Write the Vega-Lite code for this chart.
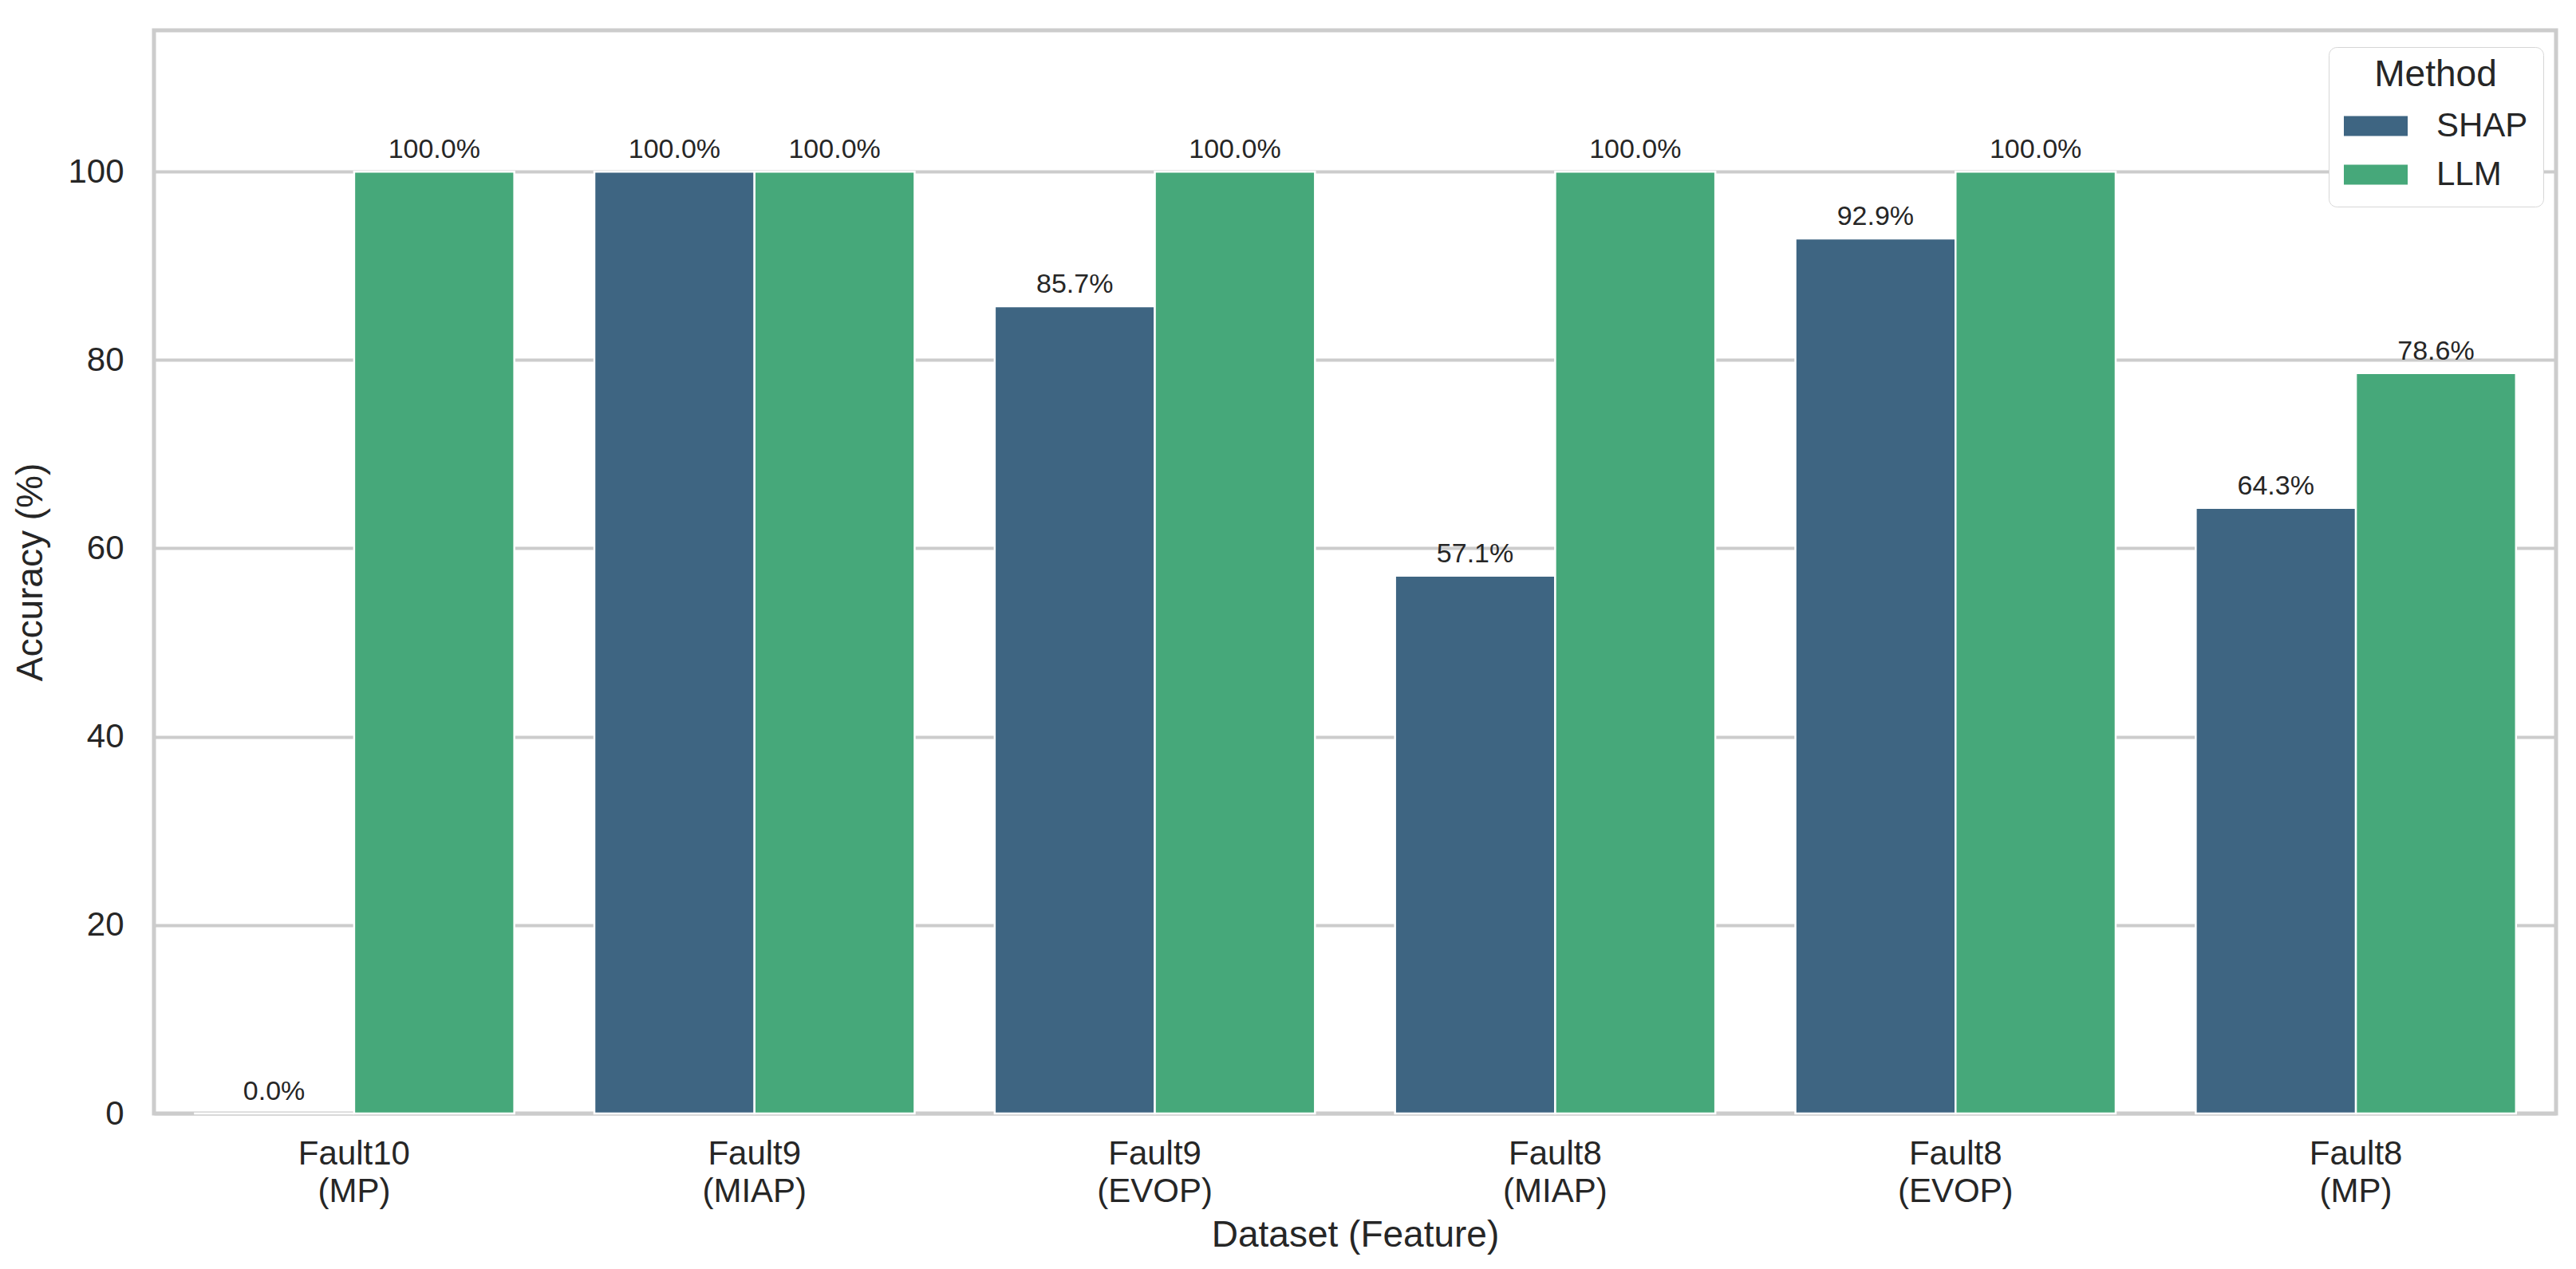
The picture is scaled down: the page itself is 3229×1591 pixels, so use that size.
{
  "$schema": "https://vega.github.io/schema/vega-lite/v6.json",
  "width": 3011,
  "height": 1358,
  "autosize": {"type": "none"},
  "padding": {"left": 193, "top": 38, "right": 25, "bottom": 195},
  "background": "white",
  "config": {
    "font": "Liberation Sans",
    "view": {"stroke": "#cccccc", "strokeWidth": 5},
    "axis": {
      "domain": false,
      "ticks": false,
      "labelFont": "Liberation Sans",
      "titleFont": "Liberation Sans",
      "labelColor": "#262626",
      "titleColor": "#262626",
      "titleFontWeight": "normal",
      "gridColor": "#cccccc",
      "gridWidth": 4
    },
    "legend": {
      "labelFont": "Liberation Sans",
      "titleFont": "Liberation Sans"
    }
  },
  "data": {
    "values": [
      {"dataset": "Fault10 (MP)", "method": "SHAP", "accuracy": 0.0, "label": "0.0%"},
      {"dataset": "Fault10 (MP)", "method": "LLM", "accuracy": 100.0, "label": "100.0%"},
      {"dataset": "Fault9 (MIAP)", "method": "SHAP", "accuracy": 100.0, "label": "100.0%"},
      {"dataset": "Fault9 (MIAP)", "method": "LLM", "accuracy": 100.0, "label": "100.0%"},
      {"dataset": "Fault9 (EVOP)", "method": "SHAP", "accuracy": 85.7, "label": "85.7%"},
      {"dataset": "Fault9 (EVOP)", "method": "LLM", "accuracy": 100.0, "label": "100.0%"},
      {"dataset": "Fault8 (MIAP)", "method": "SHAP", "accuracy": 57.1, "label": "57.1%"},
      {"dataset": "Fault8 (MIAP)", "method": "LLM", "accuracy": 100.0, "label": "100.0%"},
      {"dataset": "Fault8 (EVOP)", "method": "SHAP", "accuracy": 92.9, "label": "92.9%"},
      {"dataset": "Fault8 (EVOP)", "method": "LLM", "accuracy": 100.0, "label": "100.0%"},
      {"dataset": "Fault8 (MP)", "method": "SHAP", "accuracy": 64.3, "label": "64.3%"},
      {"dataset": "Fault8 (MP)", "method": "LLM", "accuracy": 78.6, "label": "78.6%"}
    ]
  },
  "encoding": {
    "x": {
      "field": "dataset",
      "type": "nominal",
      "sort": null,
      "scale": {"paddingInner": 0.2, "paddingOuter": 0.1},
      "axis": {
        "title": "Dataset (Feature)",
        "titleFontSize": 46,
        "titlePadding": 12,
        "labelFontSize": 42,
        "labelAngle": 0,
        "labelPadding": 30,
        "labelLineHeight": 47,
        "labelExpr": "split(datum.label, ' ')",
        "grid": false
      }
    },
    "xOffset": {"field": "method", "type": "nominal", "sort": ["SHAP", "LLM"]},
    "y": {
      "field": "accuracy",
      "type": "quantitative",
      "scale": {"domain": [0, 115], "nice": false},
      "axis": {
        "title": "Accuracy (%)",
        "titleFontSize": 46,
        "titlePadding": 22,
        "labelFontSize": 42,
        "labelPadding": 38,
        "values": [0, 20, 40, 60, 80, 100],
        "grid": true
      }
    }
  },
  "layer": [
    {
      "mark": {"type": "bar", "stroke": "white", "strokeWidth": 2.5},
      "encoding": {
        "color": {
          "field": "method",
          "type": "nominal",
          "sort": ["SHAP", "LLM"],
          "scale": {"domain": ["SHAP", "LLM"], "range": ["#3e6582", "#46a87a"]},
          "legend": {
            "title": "Method",
            "orient": "none",
            "legendX": 2726,
            "legendY": 21,
            "titleFontSize": 46,
            "titleFontWeight": "normal",
            "titleColor": "#262626",
            "titleAnchor": "middle",
            "titleBaseline": "line-top",
            "titleLineHeight": 34,
            "titlePadding": -6,
            "labelFontSize": 42,
            "labelColor": "#262626",
            "symbolType": "M-1,-0.3125H1V0.3125H-1Z",
            "symbolSize": 6400,
            "symbolStrokeWidth": 0,
            "labelOffset": 36,
            "rowPadding": -11,
            "padding": 19,
            "strokeColor": "#d6d6d6",
            "cornerRadius": 10,
            "fillColor": "white",
            "encode": {"legend": {"update": {"strokeWidth": {"value": 4}}}}
          }
        }
      }
    },
    {
      "mark": {"type": "text", "baseline": "alphabetic", "dy": -17, "fontSize": 34, "color": "#262626"},
      "encoding": {"text": {"field": "label"}}
    }
  ]
}
